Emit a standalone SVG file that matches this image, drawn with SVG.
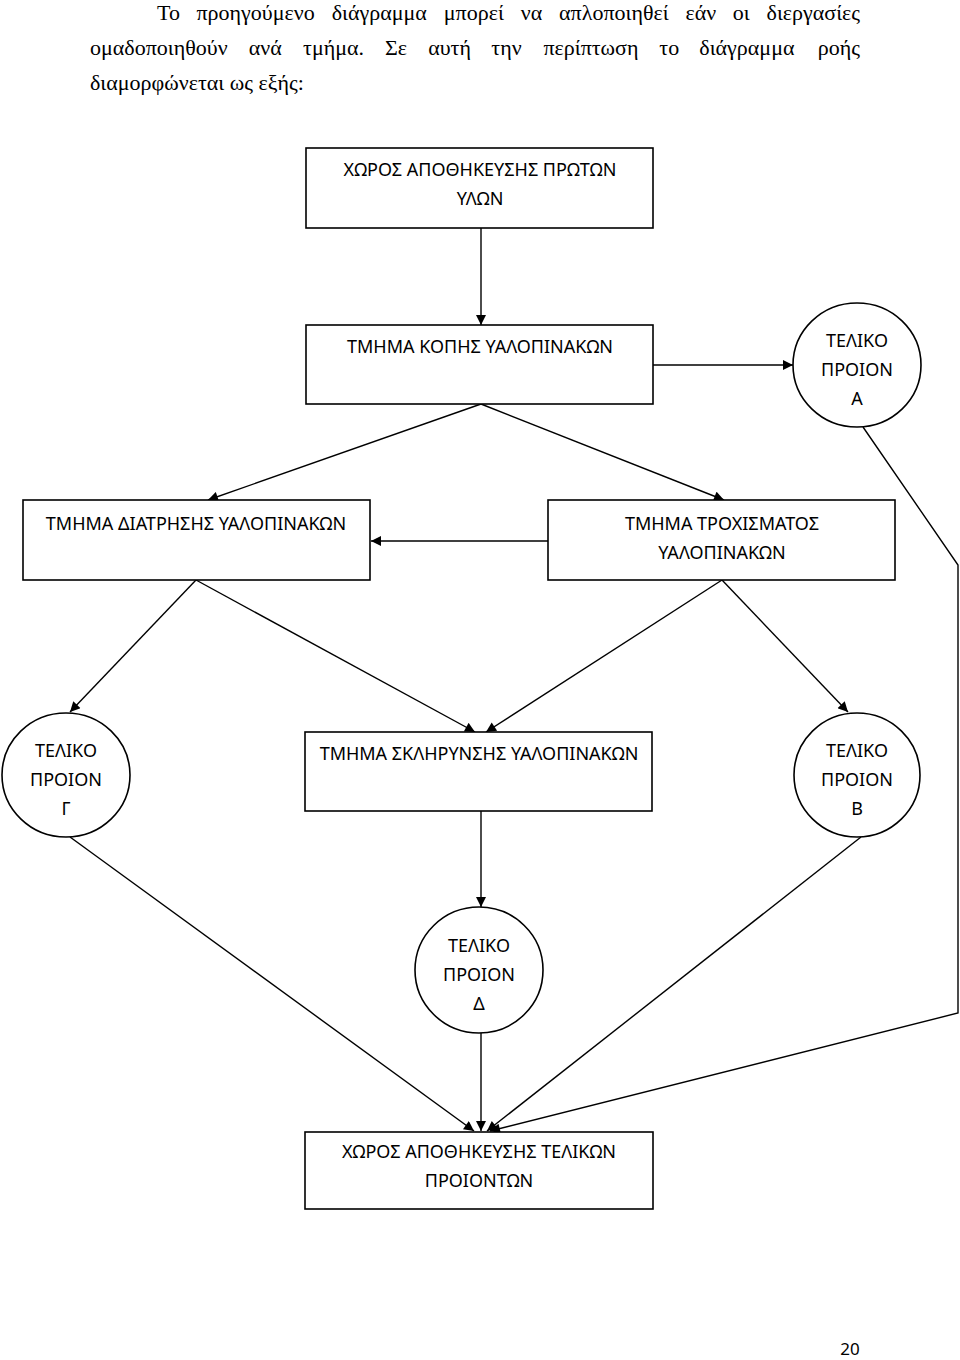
<svg xmlns="http://www.w3.org/2000/svg" width="960" height="1360" viewBox="0 0 960 1360">
<style>
.para{font-family:"Liberation Serif","Times New Roman",serif;font-size:22px;fill:#000}
.lbl{font-family:"Noto Sans","Open Sans",sans-serif;font-size:18px;fill:#000;text-anchor:middle}
.box{fill:#fff;stroke:#000;stroke-width:1.6}
.con{fill:none;stroke:#000;stroke-width:1.4}
</style>
<defs>
<marker id="ah" viewBox="0 0 10 10" refX="10" refY="5" markerWidth="12" markerHeight="10" markerUnits="userSpaceOnUse" orient="auto">
<path d="M0,0 L10,5 L0,10 z" fill="#000"/>
</marker>
</defs>
<rect width="960" height="1360" fill="#fff"/>
<g id="paragraph" class="para">
<text x="157" y="20">Το</text>
<text x="196.5" y="20">προηγούμενο</text>
<text x="331.7" y="20">διάγραμμα</text>
<text x="443.8" y="20">μπορεί</text>
<text x="520.7" y="20">να</text>
<text x="559.1" y="20">απλοποιηθεί</text>
<text x="685.5" y="20">εάν</text>
<text x="732.7" y="20">οι</text>
<text x="860" y="20" text-anchor="end">διεργασίες</text>
<text x="90" y="55">ομαδοποιηθούν</text>
<text x="248.8" y="55">ανά</text>
<text x="303.1" y="55">τμήμα.</text>
<text x="384.9" y="55">Σε</text>
<text x="428.2" y="55">αυτή</text>
<text x="491.3" y="55">την</text>
<text x="543.4" y="55">περίπτωση</text>
<text x="659.3" y="55">το</text>
<text x="699.3" y="55">διάγραμμα</text>
<text x="860" y="55" text-anchor="end">ροής</text>
<text x="90" y="90">διαμορφώνεται ως εξής:</text>
</g>
<g id="connectors" class="con">
<line x1="481" y1="228" x2="481" y2="325" marker-end="url(#ah)"/>
<line x1="653" y1="365" x2="793" y2="365" marker-end="url(#ah)"/>
<line x1="481" y1="404" x2="208" y2="500" marker-end="url(#ah)"/>
<line x1="481" y1="404" x2="724" y2="500" marker-end="url(#ah)"/>
<line x1="548" y1="541" x2="371" y2="541" marker-end="url(#ah)"/>
<line x1="196" y1="580" x2="70" y2="712" marker-end="url(#ah)"/>
<line x1="196" y1="580" x2="475" y2="732" marker-end="url(#ah)"/>
<line x1="722" y1="580" x2="486" y2="732" marker-end="url(#ah)"/>
<line x1="722" y1="580" x2="848" y2="712" marker-end="url(#ah)"/>
<line x1="481" y1="811" x2="481" y2="907" marker-end="url(#ah)"/>
<line x1="70" y1="837" x2="474" y2="1131" marker-end="url(#ah)"/>
<line x1="481" y1="1033" x2="481" y2="1131" marker-end="url(#ah)"/>
<line x1="861" y1="837" x2="487" y2="1131" marker-end="url(#ah)"/>
<polyline points="863,427 958,565 958,1013 490,1131" marker-end="url(#ah)"/>
</g>
<g id="raw-storage">
<rect class="box" x="306" y="148" width="347" height="80"/>
<text class="lbl" x="480" y="176">ΧΩΡΟΣ ΑΠΟΘΗΚΕΥΣΗΣ ΠΡΩΤΩΝ</text>
<text class="lbl" x="480" y="205">ΥΛΩΝ</text>
</g>
<g id="cutting">
<rect class="box" x="306" y="325" width="347" height="79"/>
<text class="lbl" x="480" y="353">ΤΜΗΜΑ ΚΟΠΗΣ ΥΑΛΟΠΙΝΑΚΩΝ</text>
</g>
<g id="product-a">
<ellipse class="box" cx="857" cy="365" rx="64" ry="62"/>
<text class="lbl" x="857" y="347">ΤΕΛΙΚΟ</text>
<text class="lbl" x="857" y="376">ΠΡΟΙΟΝ</text>
<text class="lbl" x="857" y="405">Α</text>
</g>
<g id="drilling">
<rect class="box" x="23" y="500" width="347" height="80"/>
<text class="lbl" x="196" y="530">ΤΜΗΜΑ ΔΙΑΤΡΗΣΗΣ ΥΑΛΟΠΙΝΑΚΩΝ</text>
</g>
<g id="grinding">
<rect class="box" x="548" y="500" width="347" height="80"/>
<text class="lbl" x="722" y="530">ΤΜΗΜΑ ΤΡΟΧΙΣΜΑΤΟΣ</text>
<text class="lbl" x="722" y="559">ΥΑΛΟΠΙΝΑΚΩΝ</text>
</g>
<g id="product-g">
<ellipse class="box" cx="66" cy="775" rx="64" ry="62"/>
<text class="lbl" x="66" y="757">ΤΕΛΙΚΟ</text>
<text class="lbl" x="66" y="786">ΠΡΟΙΟΝ</text>
<text class="lbl" x="66" y="815">Γ</text>
</g>
<g id="tempering">
<rect class="box" x="305" y="732" width="347" height="79"/>
<text class="lbl" x="479" y="760">ΤΜΗΜΑ ΣΚΛΗΡΥΝΣΗΣ ΥΑΛΟΠΙΝΑΚΩΝ</text>
</g>
<g id="product-b">
<ellipse class="box" cx="857" cy="775" rx="63" ry="62"/>
<text class="lbl" x="857" y="757">ΤΕΛΙΚΟ</text>
<text class="lbl" x="857" y="786">ΠΡΟΙΟΝ</text>
<text class="lbl" x="857" y="815">Β</text>
</g>
<g id="product-d">
<ellipse class="box" cx="479" cy="970" rx="64" ry="63"/>
<text class="lbl" x="479" y="952">ΤΕΛΙΚΟ</text>
<text class="lbl" x="479" y="981">ΠΡΟΙΟΝ</text>
<text class="lbl" x="479" y="1010">Δ</text>
</g>
<g id="final-storage">
<rect class="box" x="305" y="1132" width="348" height="77"/>
<text class="lbl" x="479" y="1158">ΧΩΡΟΣ ΑΠΟΘΗΚΕΥΣΗΣ ΤΕΛΙΚΩΝ</text>
<text class="lbl" x="479" y="1187">ΠΡΟΙΟΝΤΩΝ</text>
</g>
<g id="page-number">
<text class="lbl" x="850" y="1355" style="font-size:17px">20</text>
</g>
</svg>
